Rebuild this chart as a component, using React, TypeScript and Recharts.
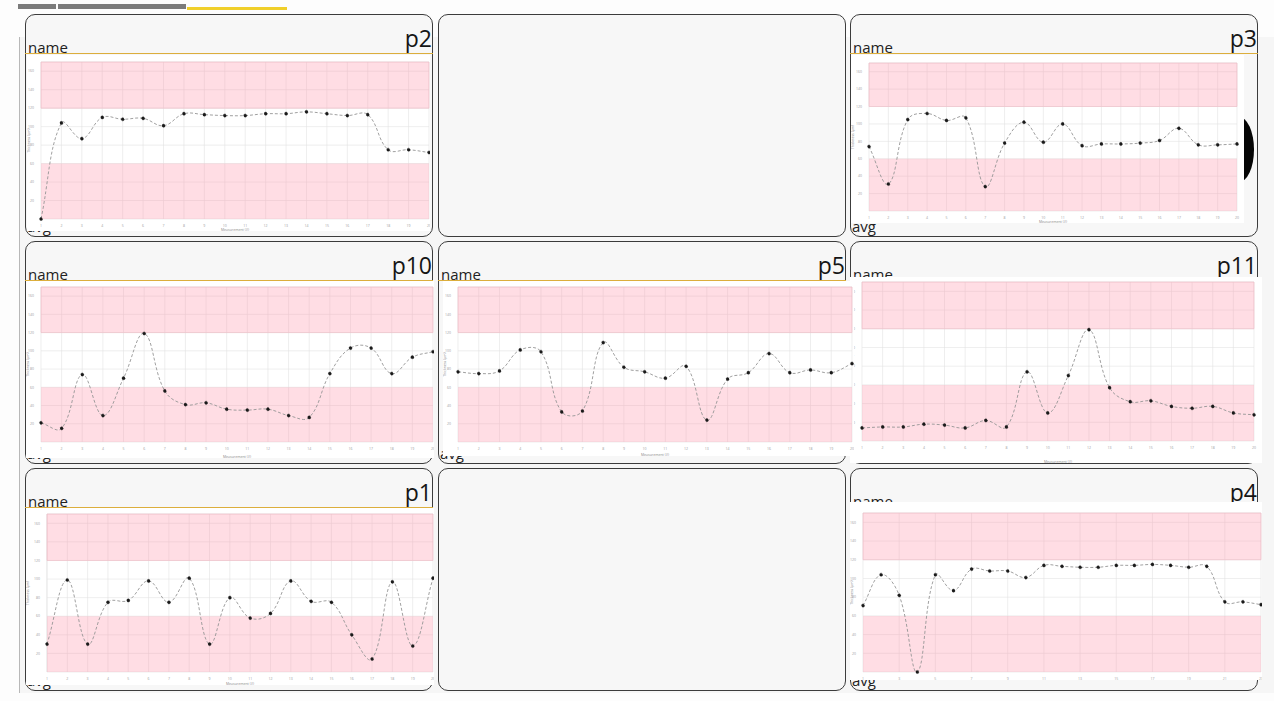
import React from 'react';
import { LineChart, Line, XAxis, YAxis, CartesianGrid, ReferenceArea, Label } from 'recharts';

// measurement numbers on the x axis
const measurements20 = ['1', '2', '3', '4', '5', '6', '7', '8', '9', '10', '11', '12', '13', '14', '15', '16', '17', '18', '19', '20'];
const measurements23 = ['1', '2', '3', '4', '5', '6', '7', '8', '9', '10', '11', '12', '13', '14', '15', '16', '17', '18', '19', '20', '21', '22', '23'];

// thickness readings (µm) per probe
const p2Values = [0, 104, 87, 110, 108, 109, 101, 114, 113, 112, 112, 114, 114, 116, 114, 112, 113, 75, 75, 72];
const p3Values = [74, 31, 105, 112, 104, 107, 28, 78, 102, 79, 100, 75, 77, 77, 78, 81, 95, 76, 76, 77];
const p10Values = [21, 15, 74, 29, 70, 119, 56, 41, 43, 36, 35, 36, 29, 27, 75, 103, 103, 75, 93, 99];
const p5Values = [77, 75, 78, 101, 99, 33, 34, 109, 82, 77, 70, 83, 24, 69, 76, 97, 76, 79, 76, 86];
const p11Values = [14, 15, 15, 18, 17, 14, 22, 15, 74, 30, 70, 119, 57, 42, 43, 37, 35, 37, 30, 28];
const p1Values = [30, 99, 30, 75, 77, 98, 75, 101, 30, 80, 58, 63, 98, 76, 75, 40, 14, 97, 28, 101];
const p4Values = [71, 104, 82, 0, 104, 87, 110, 108, 108, 101, 114, 113, 112, 112, 114, 114, 115, 114, 112, 113, 75, 75, 72];

const yTicks = [20, 40, 60, 80, 100, 120, 140, 160];
const yDomain = [0, 170];
const lowBand = [0, 60];
const highBand = [120, 170];

// chart.js style bezier (tension 0.4)
const TENSION = 0.4;
function splineCurve(context: any) {
  let pts: number[][] = [];
  return {
    areaStart() {},
    areaEnd() {},
    lineStart() {
      pts = [];
    },
    point(x: number, y: number) {
      pts.push([+x, +y]);
    },
    lineEnd() {
      const n = pts.length;
      if (!n) return;
      context.moveTo(pts[0][0], pts[0][1]);
      if (n === 1) return;
      const cps = pts.map((p, i) => {
        const prev = pts[Math.max(0, i - 1)];
        const next = pts[Math.min(n - 1, i + 1)];
        const d01 = Math.hypot(p[0] - prev[0], p[1] - prev[1]);
        const d12 = Math.hypot(next[0] - p[0], next[1] - p[1]);
        let s01 = d01 / (d01 + d12);
        let s12 = d12 / (d01 + d12);
        if (!isFinite(s01)) s01 = 0;
        if (!isFinite(s12)) s12 = 0;
        const fa = TENSION * s01;
        const fb = TENSION * s12;
        return {
          before: [p[0] - fa * (next[0] - prev[0]), p[1] - fa * (next[1] - prev[1])],
          after: [p[0] + fb * (next[0] - prev[0]), p[1] + fb * (next[1] - prev[1])],
        };
      });
      for (let i = 1; i < n; i++) {
        context.bezierCurveTo(
          cps[i - 1].after[0], cps[i - 1].after[1],
          cps[i].before[0], cps[i].before[1],
          pts[i][0], pts[i][1]
        );
      }
    },
  };
}

const COLS = [25, 438, 850];
const ROWS = [14, 241, 468];
const CARD_W = 408;
const CARD_H = 223;

type Box = { x: number; y: number; w: number; h: number; left: number; top: number; right: number; bottom: number };

const panels: { title: string; col: number; row: number; values: number[]; cats: string[]; box: Box; interval?: number; xLabel?: boolean; z?: number }[] = [
  { title: 'p2', col: 0, row: 0, values: p2Values, cats: measurements20, box: { x: 27, y: 55, w: 403, h: 176, left: 14, top: 7, right: 1, bottom: 12 } },
  { title: 'p3', col: 2, row: 0, values: p3Values, cats: measurements20, box: { x: 851, y: 55, w: 393, h: 168, left: 18, top: 8, right: 7, bottom: 12 } },
  { title: 'p10', col: 0, row: 1, values: p10Values, cats: measurements20, box: { x: 26, y: 281, w: 408, h: 177, left: 15, top: 6, right: 1, bottom: 16 } },
  { title: 'p5', col: 1, row: 1, values: p5Values, cats: measurements20, box: { x: 443, y: 281, w: 411, h: 175, left: 15, top: 6, right: 2, bottom: 14 }, z: 2 },
  { title: 'p11', col: 2, row: 1, values: p11Values, cats: measurements20, box: { x: 850, y: 277, w: 412, h: 186, left: 12, top: 5, right: 8, bottom: 22 }, z: 1 },
  { title: 'p1', col: 0, row: 2, values: p1Values, cats: measurements20, box: { x: 26, y: 508, w: 408, h: 177, left: 21, top: 6, right: 1, bottom: 13 } },
  { title: 'p4', col: 2, row: 2, values: p4Values, cats: measurements23, box: { x: 850, y: 502, w: 412, h: 178, left: 13, top: 11, right: 1, bottom: 8 }, interval: 1, xLabel: false },
];

const emptyCards = [
  { col: 1, row: 0 },
  { col: 1, row: 2 },
];

const tickStyle = { fontSize: 3.5, fill: '#a0a0a0' };

function Card({ col, row, title }: { col: number; row: number; title?: string }) {
  return (
    <div
      style={{
        position: 'absolute',
        left: COLS[col],
        top: ROWS[row],
        width: CARD_W,
        height: CARD_H,
        boxSizing: 'border-box',
        border: '1.5px solid #3c3c3c',
        borderRadius: 10,
        background: '#f7f7f7',
      }}
    >
      {title && (
        <>
          <div style={{ position: 'absolute', right: 0, top: 12, fontSize: 23, lineHeight: '23px', color: '#151515' }}>{title}</div>
          <div style={{ position: 'absolute', left: 2, top: 25, fontSize: 15, lineHeight: '15px', color: '#222' }}>name</div>
          <div style={{ position: 'absolute', left: -1, right: -1, top: 38, height: 1, background: '#dcae3c' }} />
          <div style={{ position: 'absolute', left: 1, top: 204, fontSize: 15, lineHeight: '15px', color: '#222' }}>avg</div>
        </>
      )}
    </div>
  );
}

function Chart({ values, cats, box, interval = 0, xLabel = true, z = 0 }: { values: number[]; cats: string[]; box: Box; interval?: number; xLabel?: boolean; z?: number }) {
  const data = cats.map((m, i) => ({ m, v: values[i] }));
  return (
    <div style={{ position: 'absolute', left: box.x, top: box.y, width: box.w, height: box.h, background: '#fff', zIndex: z }}>
      <LineChart width={box.w} height={box.h} data={data} margin={{ top: box.top, right: box.right, left: 0, bottom: 0 }}>
        <ReferenceArea y1={lowBand[0]} y2={lowBand[1]} fill="rgb(255,150,170)" fillOpacity={0.32} stroke="none" />
        <ReferenceArea y1={highBand[0]} y2={highBand[1]} fill="rgb(255,150,170)" fillOpacity={0.32} stroke="rgb(240,190,200)" strokeWidth={0.6} />
        <CartesianGrid stroke="#e2e2e2" strokeWidth={0.6} />
        <XAxis
          dataKey="m"
          interval={interval}
          height={box.bottom}
          tick={tickStyle}
          tickLine={false}
          axisLine={false}
          tickMargin={0}
        >
          {xLabel && <Label value="Measurement (#)" position="insideBottom" offset={0} style={{ fontSize: 3.5, fill: '#8a8a8a' }} />}
        </XAxis>
        <YAxis
          type="number"
          domain={yDomain}
          ticks={yTicks}
          interval={0}
          width={box.left}
          tick={tickStyle}
          tickLine={false}
          axisLine={false}
          tickMargin={1}
        >
          <Label
            content={(props: any) => {
              const vb = props.viewBox || {};
              const x = (vb.x ?? 0) + 3;
              const y = (vb.y ?? 0) + (vb.height ?? 0) / 2;
              return (
                <text x={x} y={y} transform={`rotate(-90 ${x} ${y})`} textAnchor="middle" fontSize={3.5} fill="#8a8a8a">
                  Thickness (µm)
                </text>
              );
            }}
          />
        </YAxis>
        <Line
          dataKey="v"
          type={splineCurve as any}
          stroke="#959595"
          strokeWidth={0.9}
          strokeDasharray="3 2"
          dot={{ r: 1.6, fill: '#1a1a1a', stroke: '#1a1a1a', strokeWidth: 0.4 }}
          activeDot={false}
          isAnimationActive={false}
        />
      </LineChart>
    </div>
  );
}

export default function App() {
  return (
    <div
      style={{
        position: 'absolute',
        left: 0,
        top: 0,
        width: 1274,
        height: 701,
        overflow: 'hidden',
        background: '#fdfdfd',
        fontFamily: '"Open Sans", sans-serif',
      }}
    >
      {/* tab strip */}
      <div style={{ position: 'absolute', left: 18, top: 4, width: 38, height: 5, background: '#7b7b7b' }} />
      <div style={{ position: 'absolute', left: 58, top: 4, width: 128, height: 5, background: '#7b7b7b' }} />
      <div style={{ position: 'absolute', left: 187, top: 7, width: 100, height: 3, background: '#f0cf2a' }} />
      <div style={{ position: 'absolute', left: 19, top: 37, width: 1255, height: 656, borderLeft: '1px solid #b8b8b8', background: '#f6f6f6' }} />

      {emptyCards.map((c, i) => (
        <Card key={'e' + i} col={c.col} row={c.row} />
      ))}
      {panels.map((p) => (
        <React.Fragment key={p.title}>
          <Card col={p.col} row={p.row} title={p.title} />
          {p.title === 'p3' && (
            <div style={{ position: 'absolute', left: 1224, top: 117, width: 30, height: 65, borderRadius: '50%', background: '#050505' }} />
          )}
          <Chart values={p.values} cats={p.cats} box={p.box} interval={p.interval} xLabel={p.xLabel} z={p.z} />
        </React.Fragment>
      ))}
    </div>
  );
}
